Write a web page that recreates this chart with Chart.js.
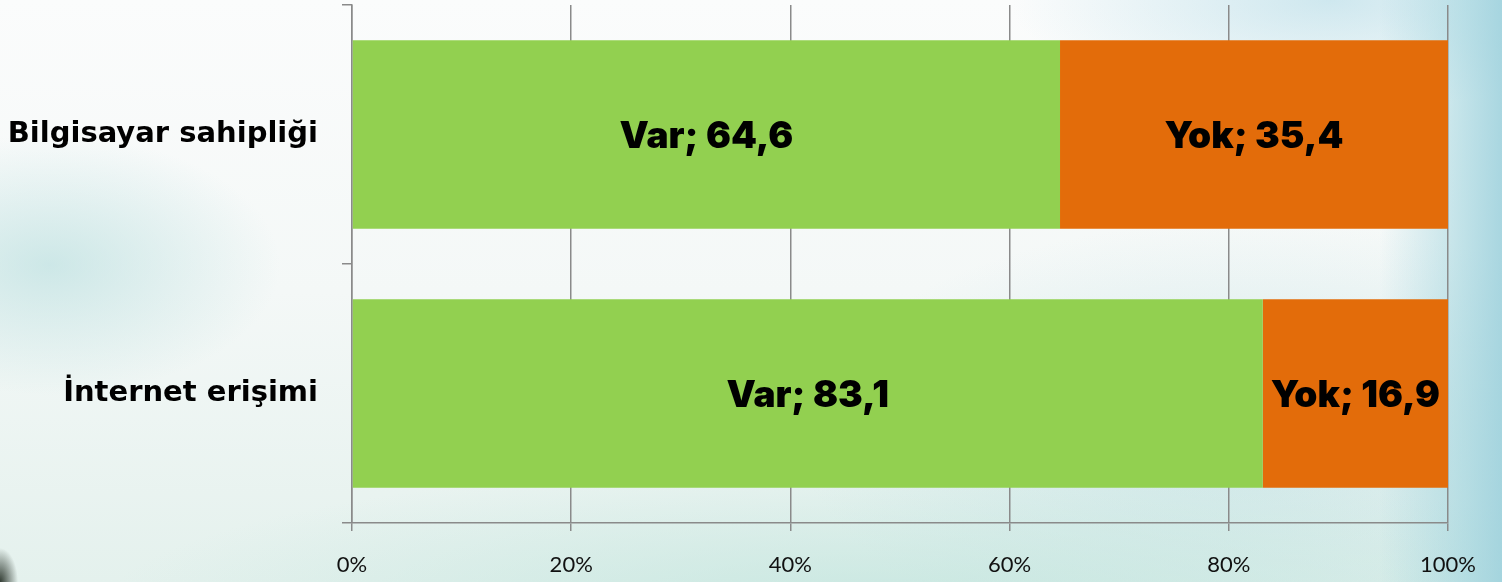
<!DOCTYPE html>
<html>
<head>
<meta charset="utf-8">
<script src="https://cdn.jsdelivr.net/npm/chart.js@4/dist/chart.umd.min.js"></script>
<style>
html,body{margin:0;padding:0;}
body{width:1502px;height:582px;overflow:hidden;
background:
 radial-gradient(ellipse 18px 34px at 0px 582px, rgba(30,40,30,0.9), rgba(30,40,30,0) 100%),
 radial-gradient(ellipse 230px 130px at 50px 265px, rgba(178,220,220,0.6), rgba(178,220,220,0) 100%),
 linear-gradient(90deg, rgba(160,212,222,0) 0px, rgba(160,212,222,0) 1380px, rgba(160,212,222,0.6) 1460px, rgba(155,208,220,0.85) 1502px),
 radial-gradient(ellipse 320px 110px at 1330px 0px, rgba(170,215,228,0.55), rgba(170,215,228,0) 100%),
 radial-gradient(ellipse 800px 150px at 900px 610px, rgba(190,228,220,0.75), rgba(190,228,220,0) 100%),
 radial-gradient(ellipse 450px 220px at 1250px 440px, rgba(185,222,226,0.55), rgba(185,222,226,0) 100%),
 linear-gradient(180deg, #fbfcfc 0%, #f4f8f7 50%, #e4f1ed 100%);
}
#wrap{position:absolute;left:0;top:0;width:1502px;height:582px;}
</style>
</head>
<body>
<div id="wrap"><canvas id="c" width="1502" height="582"></canvas></div>
<script>
const categories = ["Bilgisayar sahipliği", "İnternet erişimi"];
const seriesNames = ["Var", "Yok"];
const varValues = [64.6, 83.1];
const yokValues = [35.4, 16.9];
const xTicks = [0, 20, 40, 60, 80, 100];

const labelPlugin = {
  id: 'barLabels',
  afterDatasetsDraw(chart) {
    const ctx = chart.ctx;
    ctx.save();
    ctx.font = '900 37px Inter';
    ctx.fillStyle = '#000';
    ctx.textAlign = 'center';
    ctx.textBaseline = 'middle';
    chart.data.datasets.forEach((ds, di) => {
      const meta = chart.getDatasetMeta(di);
      meta.data.forEach((bar, i) => {
        const v = ds.data[i];
        const txt = ds.label + '; ' + v.toFixed(1).replace('.', ',');
        const cx = (bar.x + bar.base) / 2;
        ctx.fillText(txt, cx, bar.y + 2);
      });
    });
    ctx.restore();
  }
};

new Chart(document.getElementById('c'), {
  type: 'bar',
  data: {
    labels: categories,
    datasets: [
      { label: seriesNames[0], data: varValues, backgroundColor: '#92D050' },
      { label: seriesNames[1], data: yokValues, backgroundColor: '#E36C0A' }
    ]
  },
  options: {
    indexAxis: 'y',
    responsive: false,
    animation: false,
    devicePixelRatio: 1,
    layout: { padding: { left: 0, right: 54, top: 5, bottom: 0 } },
    datasets: { bar: { categoryPercentage: 1, barPercentage: 0.727 } },
    plugins: { legend: { display: false }, tooltip: { enabled: false } },
    scales: {
      x: {
        stacked: true,
        min: 0, max: 100,
        afterBuildTicks(scale) { scale.ticks = xTicks.map(v => ({ value: v })); },
        afterFit(scale) { scale.height = 59; },
        ticks: {
          callback: v => v + '%',
          color: '#111',
          font: { family: 'Lato', size: 22 },
          padding: 21,
          maxRotation: 0
        },
        grid: { color: '#8a8a8a', lineWidth: 1.5, tickLength: 8, drawTicks: true },
        border: { color: '#8a8a8a', width: 1.5 }
      },
      y: {
        stacked: true,
        afterFit(scale) { scale.width = 352; scale.paddingTop = 0; scale.paddingBottom = 0; },
        ticks: {
          color: '#000',
          font: { family: 'DejaVu Sans', size: 29, weight: 'bold' },
          padding: 24
        },
        grid: { offset: true, drawOnChartArea: false, color: '#8a8a8a', lineWidth: 1.5, tickLength: 10 },
        border: { color: '#8a8a8a', width: 1.5 }
      }
    }
  },
  plugins: [labelPlugin]
});
</script>
</body>
</html>
